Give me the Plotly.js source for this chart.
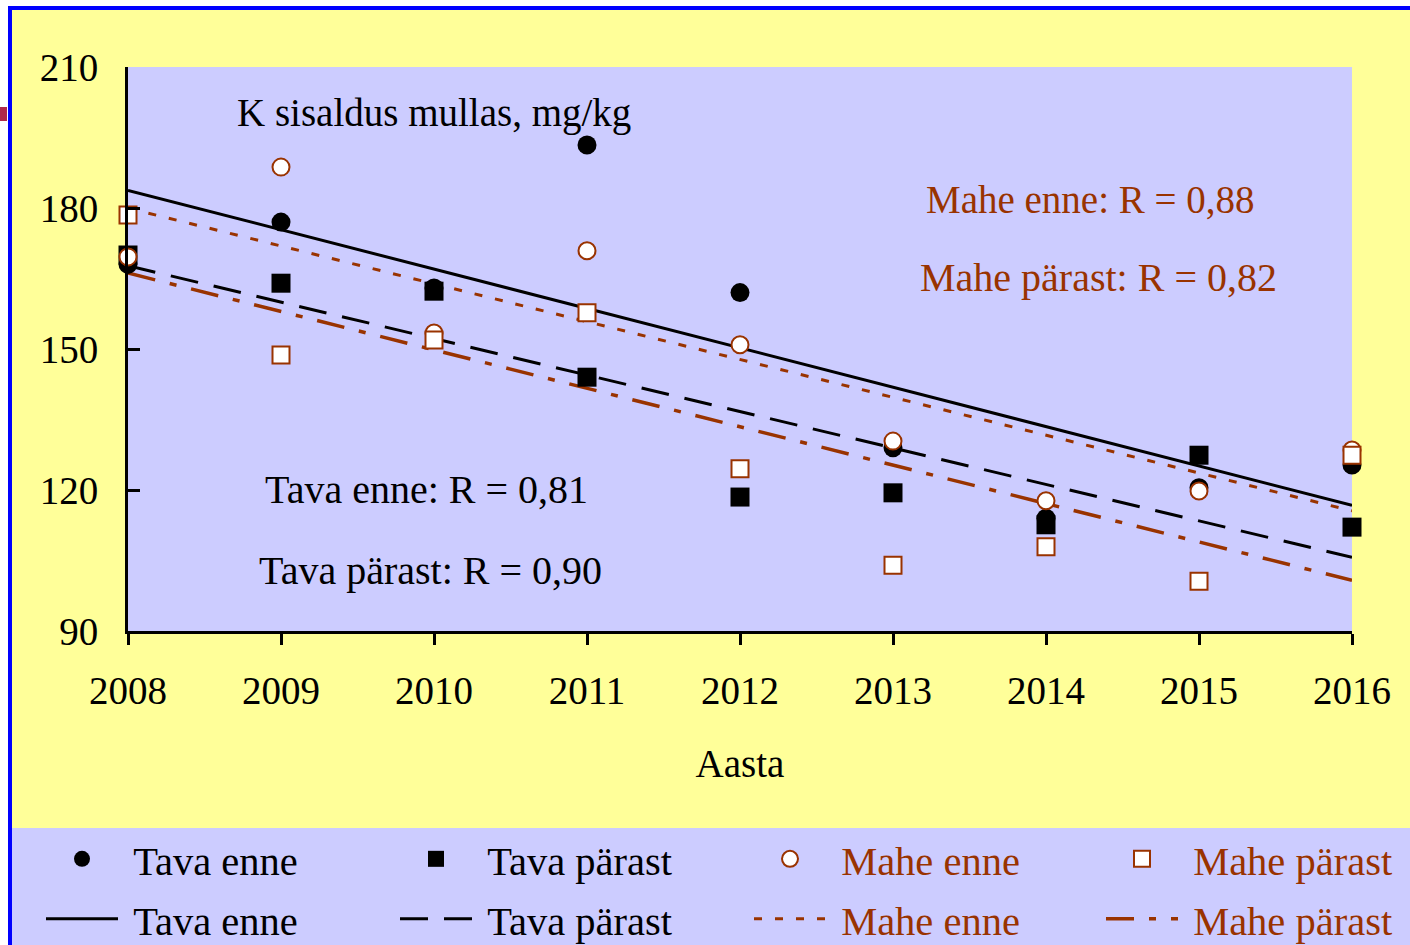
<!DOCTYPE html>
<html>
<head>
<meta charset="utf-8">
<script src="https://cdn.plot.ly/plotly-3.0.1.min.js"></script>
<style>html,body{margin:0;padding:0;background:#fff;}#chart{width:1410px;height:945px;}</style>
</head>
<body>
<div id="chart"></div>
<script>
// ---- data ----
const years = [2008, 2009, 2010, 2011, 2012, 2013, 2014, 2015, 2016];
const tavaEnne   = [168, 177, 163, 193.4, 162, 129, 114, 120.5, 125.3];
const tavaParast = [170, 164, 162.3, 144, 118.5, 119.4, 112.6, 127.4, 112.1];
const maheEnne   = [169.6, 188.7, 153.4, 170.9, 150.9, 130.4, 117.7, 119.8, 128.5];
const maheParast = [178.5, 148.7, 151.9, 157.7, 124.5, 104, 107.9, 100.6, 127.4];
const yTicks = [90, 120, 150, 180, 210];
const seriesNames = ['Tava enne', 'Tava pärast', 'Mahe enne', 'Mahe pärast'];
const rLabels = ['Tava enne: R = 0,81', 'Tava pärast: R = 0,90', 'Mahe enne: R = 0,88', 'Mahe pärast: R = 0,82'];
const chartTitle = 'K sisaldus mullas, mg/kg';
const xTitle = 'Aasta';

// ---- helpers ----
const RED = '#993300';
const LAV = '#CCCCFF';
const FONT = 'Liberation Serif, Times New Roman, serif';
const FS = 39;
const M = {l: 128, r: 58, t: 67, b: 314, autoexpand: false};
const W = 1410, H = 945;
const PW = W - M.l - M.r, PH = H - M.t - M.b;
const P = px => (px - M.l) / PW;
const Q = py => (H - M.b - py) / PH;

function fit(xs, ys) {
  const n = xs.length;
  const mx = xs.reduce((a, b) => a + b, 0) / n;
  const my = ys.reduce((a, b) => a + b, 0) / n;
  let sxy = 0, sxx = 0;
  for (let i = 0; i < n; i++) { sxy += (xs[i] - mx) * (ys[i] - my); sxx += (xs[i] - mx) ** 2; }
  const b = sxy / sxx, a = my - b * mx;
  const x0 = xs[0], x1 = xs[n - 1];
  return {x: [x0, x1], y: [a + b * x0, a + b * x1]};
}

const allSeries = [tavaEnne, tavaParast, maheEnne, maheParast];
const lineStyles = [
  {color: 'black', width: 3, dash: 'solid'},
  {color: 'black', width: 3, dash: '28px,16px'},
  {color: RED, width: 3, dash: '8px,13px'},
  {color: RED, width: 3.5, dash: '28px,15px,7px,15px'}
];
const markerStyles = [
  {symbol: 'circle', size: 19, color: 'black'},
  {symbol: 'square', size: 19, color: 'black'},
  {symbol: 'circle', size: 17, color: 'white', line: {color: RED, width: 2}},
  {symbol: 'square', size: 17, color: 'white', line: {color: RED, width: 2}}
];

const NB = '\u00a0';
const traces = [];
allSeries.forEach((s, i) => {
  const f = fit(years, s);
  traces.push({x: f.x, y: f.y, mode: 'lines', line: lineStyles[i], name: NB + seriesNames[i],
    legend: 'legend' + (i + 5), cliponaxis: false, hoverinfo: 'skip'});
});
allSeries.forEach((s, i) => {
  traces.push({x: years, y: s, mode: 'markers', marker: markerStyles[i], name: NB + seriesNames[i],
    legend: i === 0 ? 'legend' : 'legend' + (i + 1), cliponaxis: false});
});

const colX = [41, 395, 749, 1101];
const rowY = [859, 919];
const legends = {};
for (let k = 0; k < 8; k++) {
  const col = k % 4, row = Math.floor(k / 4);
  const key = k === 0 ? 'legend' : 'legend' + (k + 1);
  legends[key] = {
    x: P(colX[col]), y: Q(rowY[row]), xanchor: 'left', yanchor: 'middle',
    bgcolor: 'rgba(0,0,0,0)', borderwidth: 0, itemwidth: 72,
    font: {family: FONT, size: 40.5, color: col < 2 ? 'black' : RED},
    itemclick: false, itemdoubleclick: false
  };
}

const tf = {family: FONT, size: FS, color: 'black'};
const rf = {family: FONT, size: 40, color: 'black'};
const layout = Object.assign({
  width: W, height: H, margin: M,
  paper_bgcolor: '#FFFF99', plot_bgcolor: LAV,
  showlegend: true,
  xaxis: {range: [years[0], years[years.length - 1]], tickvals: years, ticktext: years.map(String),
    ticks: 'outside', ticklen: 11, tickwidth: 3, tickcolor: 'black',
    showline: true, linewidth: 3, linecolor: 'black', showgrid: false, zeroline: false,
    tickfont: tf, ticklabelstandoff: 12,
    title: {text: xTitle, font: tf, standoff: 39}},
  yaxis: {range: [yTicks[0], yTicks[yTicks.length - 1]], tickvals: yTicks,
    ticks: 'inside', ticklen: 12, tickwidth: 3, tickcolor: 'black',
    showline: true, linewidth: 3, linecolor: 'black', showgrid: false, zeroline: false,
    tickfont: tf, ticklabelstandoff: 19},
  annotations: [
    {text: chartTitle, x: 2010, y: 200.2, xref: 'x', yref: 'y', showarrow: false, font: tf},
    {text: rLabels[0], x: 2009.95, y: 120.2, xref: 'x', yref: 'y', showarrow: false, font: rf},
    {text: rLabels[1], x: 2009.98, y: 102.8, xref: 'x', yref: 'y', showarrow: false, font: rf},
    {text: rLabels[2], x: 2014.29, y: 181.9, xref: 'x', yref: 'y', showarrow: false, font: Object.assign({}, tf, {color: RED})},
    {text: rLabels[3], x: 2014.34, y: 165.3, xref: 'x', yref: 'y', showarrow: false, font: Object.assign({}, rf, {color: RED})}
  ],
  shapes: [
    {type: 'rect', xref: 'paper', yref: 'paper', x0: P(-5), x1: P(1420), y0: Q(-5), y1: Q(6), fillcolor: 'white', line: {width: 0}, layer: 'below'},
    {type: 'rect', xref: 'paper', yref: 'paper', x0: P(-5), x1: P(8), y0: Q(-5), y1: Q(950), fillcolor: 'white', line: {width: 0}, layer: 'below'},
    {type: 'rect', xref: 'paper', yref: 'paper', x0: P(12), x1: P(1420), y0: Q(828), y1: Q(950), fillcolor: LAV, line: {width: 0}, layer: 'below'},
    {type: 'line', xref: 'paper', yref: 'paper', x0: P(8), x1: P(1420), y0: Q(8), y1: Q(8), line: {color: '#0000FF', width: 4}, layer: 'below'},
    {type: 'line', xref: 'paper', yref: 'paper', x0: P(10), x1: P(10), y0: Q(6), y1: Q(950), line: {color: '#0000FF', width: 4}, layer: 'below'},
    {type: 'rect', xref: 'paper', yref: 'paper', x0: P(0), x1: P(7), y0: Q(107), y1: Q(121), fillcolor: '#B0284A', line: {width: 0}, layer: 'below'}
  ]
}, legends);

Plotly.newPlot('chart', traces, layout, {displayModeBar: false, staticPlot: true});
</script>
</body>
</html>
